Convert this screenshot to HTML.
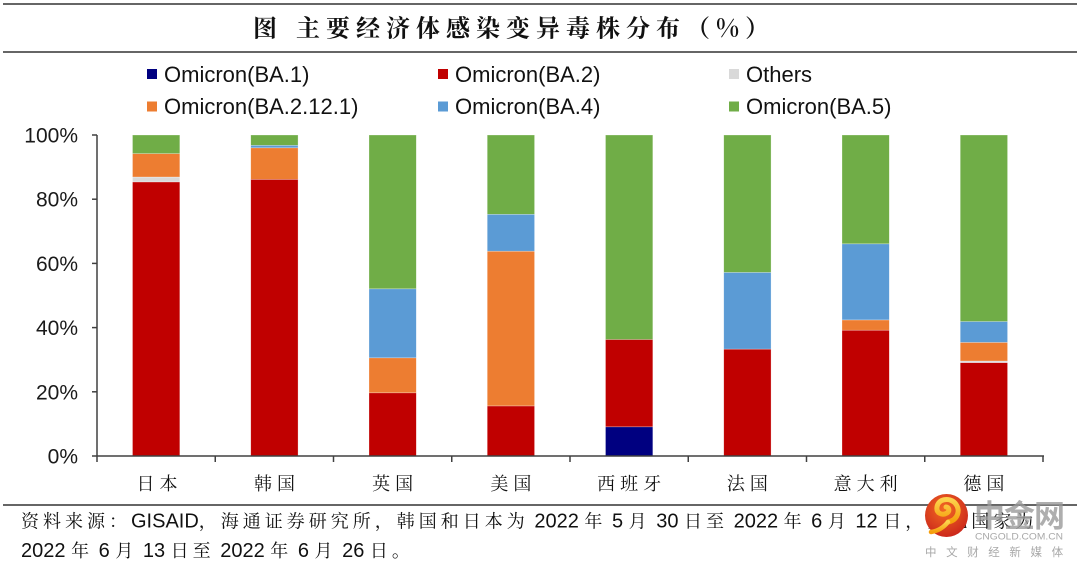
<!DOCTYPE html>
<html><head><meta charset="utf-8"><style>
html,body{margin:0;padding:0;background:#fff;}
svg{display:block;}
.c{font-family:"Noto Serif CJK SC","Noto Sans CJK SC",serif;font-size:18px;letter-spacing:4px;}
.lat{font-family:"Liberation Sans",Arial,sans-serif;}
</style></head><body>
<svg width="1080" height="568" viewBox="0 0 1080 568" xmlns="http://www.w3.org/2000/svg">
<rect x="0" y="0" width="1080" height="568" fill="#fff"/>
<!-- title lines -->
<line x1="3" y1="4" x2="1077" y2="4" stroke="#666" stroke-width="2"/>
<line x1="3" y1="52" x2="1077" y2="52" stroke="#666" stroke-width="2"/>
<text x="253" y="36.5" font-family="'Noto Serif CJK SC',serif" font-weight="700" font-size="24" fill="#111">图</text>
<text x="296" y="36.5" font-family="'Noto Serif CJK SC',serif" font-weight="700" font-size="24" letter-spacing="6" fill="#111">主要经济体感染变异毒株分布（%）</text>

<!-- legend -->
<g class="lat" font-size="22" fill="#111">
<rect x="147" y="69" width="10" height="10" fill="#000080"/>
<text x="164" y="82">Omicron(BA.1)</text>
<rect x="438" y="69" width="10" height="10" fill="#C00000"/>
<text x="455" y="82">Omicron(BA.2)</text>
<rect x="729" y="69" width="10" height="10" fill="#D9D9D9"/>
<text x="746" y="82">Others</text>
<rect x="147" y="101.5" width="10" height="10" fill="#ED7D31"/>
<text x="164" y="114">Omicron(BA.2.12.1)</text>
<rect x="438" y="101.5" width="10" height="10" fill="#5B9BD5"/>
<text x="455" y="114">Omicron(BA.4)</text>
<rect x="729" y="101.5" width="10" height="10" fill="#70AD47"/>
<text x="746" y="114">Omicron(BA.5)</text>
</g>

<!-- bars -->
<g stroke="rgba(255,255,255,0.45)" stroke-width="0.6">
<!-- Japan -->
<rect x="132.5" y="181.9" width="47.3" height="274.1" fill="#C00000"/>
<rect x="132.5" y="177.0" width="47.3" height="4.9" fill="#D9D9D9"/>
<rect x="132.5" y="153.6" width="47.3" height="23.4" fill="#ED7D31"/>
<rect x="132.5" y="135" width="47.3" height="18.6" fill="#70AD47"/>
<!-- Korea -->
<rect x="250.75" y="179.3" width="47.3" height="276.7" fill="#C00000"/>
<rect x="250.75" y="147.8" width="47.3" height="31.5" fill="#ED7D31"/>
<rect x="250.75" y="145.3" width="47.3" height="2.5" fill="#5B9BD5"/>
<rect x="250.75" y="135" width="47.3" height="10.3" fill="#70AD47"/>
<!-- UK -->
<rect x="369" y="392.8" width="47.3" height="63.2" fill="#C00000"/>
<rect x="369" y="357.8" width="47.3" height="35" fill="#ED7D31"/>
<rect x="369" y="288.8" width="47.3" height="69" fill="#5B9BD5"/>
<rect x="369" y="135" width="47.3" height="153.8" fill="#70AD47"/>
<!-- USA -->
<rect x="487.25" y="405.9" width="47.3" height="50.1" fill="#C00000"/>
<rect x="487.25" y="251.2" width="47.3" height="154.7" fill="#ED7D31"/>
<rect x="487.25" y="214.3" width="47.3" height="36.9" fill="#5B9BD5"/>
<rect x="487.25" y="135" width="47.3" height="79.3" fill="#70AD47"/>
<!-- Spain -->
<rect x="605.5" y="426.8" width="47.3" height="29.2" fill="#000080"/>
<rect x="605.5" y="339.5" width="47.3" height="87.3" fill="#C00000"/>
<rect x="605.5" y="135" width="47.3" height="204.5" fill="#70AD47"/>
<!-- France -->
<rect x="723.75" y="349.1" width="47.3" height="106.9" fill="#C00000"/>
<rect x="723.75" y="272.4" width="47.3" height="76.7" fill="#5B9BD5"/>
<rect x="723.75" y="135" width="47.3" height="137.4" fill="#70AD47"/>
<!-- Italy -->
<rect x="842" y="330.2" width="47.3" height="125.8" fill="#C00000"/>
<rect x="842" y="319.9" width="47.3" height="10.3" fill="#ED7D31"/>
<rect x="842" y="243.8" width="47.3" height="76.1" fill="#5B9BD5"/>
<rect x="842" y="135" width="47.3" height="108.8" fill="#70AD47"/>
<!-- Germany -->
<rect x="960.25" y="362.6" width="47.3" height="93.4" fill="#C00000"/>
<rect x="960.25" y="361.0" width="47.3" height="1.6" fill="#D9D9D9"/>
<rect x="960.25" y="342.4" width="47.3" height="18.6" fill="#ED7D31"/>
<rect x="960.25" y="321.5" width="47.3" height="20.9" fill="#5B9BD5"/>
<rect x="960.25" y="135" width="47.3" height="186.5" fill="#70AD47"/>
</g>

<!-- axes -->
<g stroke="#404040" stroke-width="1.5" fill="none">
<line x1="97" y1="135" x2="97" y2="456"/>
<line x1="92" y1="135" x2="97" y2="135"/>
<line x1="92" y1="199.2" x2="97" y2="199.2"/>
<line x1="92" y1="263.4" x2="97" y2="263.4"/>
<line x1="92" y1="327.6" x2="97" y2="327.6"/>
<line x1="92" y1="391.8" x2="97" y2="391.8"/>
<line x1="92" y1="456" x2="1044" y2="456"/>
<line x1="97" y1="456" x2="97" y2="462"/>
<line x1="215.25" y1="456" x2="215.25" y2="462"/>
<line x1="333.5" y1="456" x2="333.5" y2="462"/>
<line x1="451.75" y1="456" x2="451.75" y2="462"/>
<line x1="570" y1="456" x2="570" y2="462"/>
<line x1="688.25" y1="456" x2="688.25" y2="462"/>
<line x1="806.5" y1="456" x2="806.5" y2="462"/>
<line x1="924.75" y1="456" x2="924.75" y2="462"/>
<line x1="1043" y1="456" x2="1043" y2="462"/>
</g>

<!-- y labels -->
<g class="lat" font-size="21" fill="#1a1a1a" text-anchor="end">
<text x="78" y="142.5">100%</text>
<text x="78" y="206.7">80%</text>
<text x="78" y="270.9">60%</text>
<text x="78" y="335.1">40%</text>
<text x="78" y="399.3">20%</text>
<text x="78" y="463.5">0%</text>
</g>

<!-- x labels -->
<g font-family="'Noto Serif CJK SC',serif" font-size="18" letter-spacing="5" fill="#111">
<text x="136.5" y="490">日本</text>
<text x="254" y="490">韩国</text>
<text x="372.1" y="490">英国</text>
<text x="490.4" y="490">美国</text>
<text x="597.1" y="490">西班牙</text>
<text x="726.9" y="490">法国</text>
<text x="833.6" y="490">意大利</text>
<text x="963.4" y="490">德国</text>
</g>

<!-- source -->
<line x1="3" y1="505" x2="1077" y2="505" stroke="#666" stroke-width="2"/>
<text x="21" y="527.5" class="lat" font-size="20" fill="#111"><tspan class="c">资料来源：</tspan>GISAID<tspan class="c">，海通证券研究所，韩国和日本为</tspan> 2022 <tspan class="c">年</tspan> 5 <tspan class="c">月</tspan> 30 <tspan class="c">日至</tspan> 2022 <tspan class="c">年</tspan> 6 <tspan class="c">月</tspan> 12 <tspan class="c">日，其他国家为</tspan></text>
<text x="21" y="557" class="lat" font-size="20" fill="#111">2022 <tspan class="c">年</tspan> 6 <tspan class="c">月</tspan> 13 <tspan class="c">日至</tspan> 2022 <tspan class="c">年</tspan> 6 <tspan class="c">月</tspan> 26 <tspan class="c">日。</tspan></text>

<!-- watermark -->
<defs>
<radialGradient id="lg" cx="0.45" cy="0.35" r="0.7">
<stop offset="0" stop-color="#f26a22"/>
<stop offset="1" stop-color="#c9231b"/>
</radialGradient>
<linearGradient id="yg" x1="0" y1="0" x2="0" y2="1">
<stop offset="0" stop-color="#fcd34d"/>
<stop offset="1" stop-color="#f59e0b"/>
</linearGradient>
</defs>
<circle cx="946.5" cy="515.5" r="21.5" fill="url(#lg)"/>
<path d="M948 522 C958 520 961 510 955 503 C949 497 938 499 937 507 C936 513 942 516 947 513 C950 511 949 507 946 507" fill="none" stroke="url(#yg)" stroke-width="5" stroke-linecap="round"/>
<path d="M948 522 C944 527 938 531 931 532" fill="none" stroke="url(#yg)" stroke-width="4.5" stroke-linecap="round"/>
<text x="974" y="527" font-family="'Noto Sans CJK SC',sans-serif" font-weight="700" font-size="31" fill="#9a9a9a" fill-opacity="0.8" letter-spacing="-1">中金网</text>
<text x="975" y="539.5" class="lat" font-size="9.5" fill="#a8a8a8" textLength="88" lengthAdjust="spacingAndGlyphs">CNGOLD.COM.CN</text>
<text x="925" y="556" font-family="'Noto Sans CJK SC',sans-serif" font-size="11.5" fill="#a8a8a8" letter-spacing="9.6">中文财经新媒体</text>
</svg>
</body></html>
